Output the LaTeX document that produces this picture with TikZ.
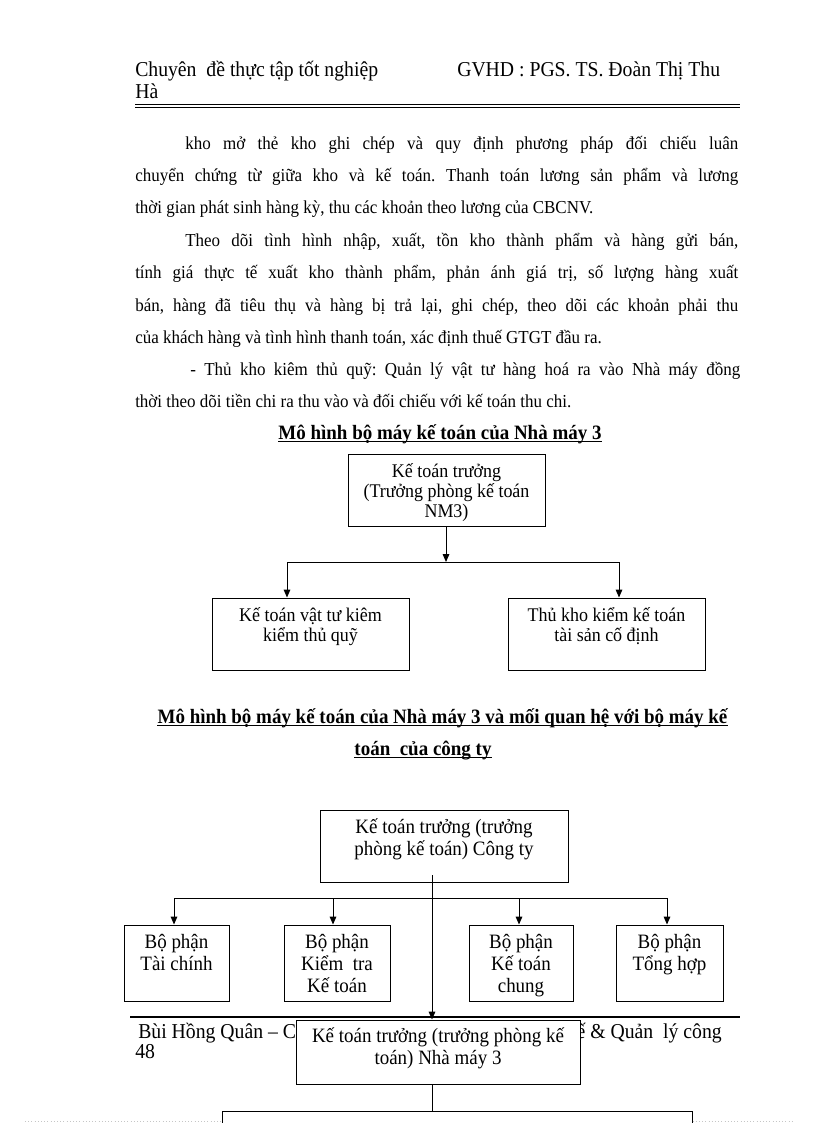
\documentclass[tikz,border=0pt]{standalone}
\usepackage{fontspec}
\setmainfont{Liberation Serif}[FakeStretch=0.93]
\usetikzlibrary{arrows.meta,positioning}

% one justified line of the page text
\newcommand{\jline}[2]{\makebox[#1][s]{#2}}

\begin{document}
\frenchspacing
\begin{tikzpicture}[x=0.75pt, y=-0.75pt,
line/.style={inner sep=0pt, anchor=base west, font=\fontsize{13.7}{15}\selectfont},
pagehead/.style={inner sep=0pt, anchor=base west, font=\fontsize{15.9}{18}\selectfont},
heading/.style={inner sep=0pt, anchor=base, font=\bfseries\fontsize{15.3}{18}\selectfont},
box/.style={draw, line width=0.75pt, fill=white, inner sep=0pt},
boxtext/.style={inner sep=0pt, align=center, font=\fontsize{14.5}{15}\selectfont},
bigtext/.style={boxtext, font=\fontsize{15.3}{16.5}\selectfont},
arr/.style={-{Triangle[width=5pt,length=6pt]}, line width=0.75pt},
link/.style={line width=0.75pt}
]
\clip (0,0) rectangle (816,1123);
\fill[white] (0,0) rectangle (816,1123);

% page header
\node[pagehead] (hd1) at (135,77) {Chuyên\ \ đề thực tập tốt nghiệp};
\node[pagehead] (hd2) at (457,77) {GVHD\ : PGS. TS. Đoàn Thị Thu};
\node[pagehead] (hd3) at (135,99) {Hà};
\draw[line width=0.5pt] (135,104) -- (740,104);
\draw[line width=1.4pt] (135,107.5) -- (740,107.5);

% page text
\node[line] (p1) at (185,150) {\jline{414.75pt}{kho mở thẻ kho ghi chép và quy định phương pháp đối chiếu luân}};
\node[line] (p2) at (135,182) {\jline{452.25pt}{chuyển chứng từ giữa kho và kế toán. Thanh toán lương sản phẩm và lương}};
\node[line] (p3) at (135,214) {thời gian phát sinh hàng kỳ, thu các khoản theo lương của CBCNV.};
\node[line] (p4) at (185,246) {\jline{414.75pt}{Theo dõi tình hình nhập, xuất, tồn kho thành phẩm và hàng gửi bán,}};
\node[line] (p5) at (135,278) {\jline{452.25pt}{tính giá thực tế xuất kho thành phẩm, phản ánh giá trị, số lượng hàng xuất}};
\node[line] (p6) at (135,311) {\jline{452.25pt}{bán, hàng đã tiêu thụ và hàng bị trả lại, ghi chép, theo dõi các khoản phải thu}};
\node[line] (p7) at (135,343) {của khách hàng và tình hình thanh toán, xác định thuế GTGT đầu ra.};
\node[line] (p8) at (190,375) {\jline{412.5pt}{- Thủ kho kiêm thủ quỹ: Quản lý vật tư hàng hoá ra vào Nhà máy đồng}};
\node[line] (p9) at (135,407) {thời theo dõi tiền chi ra thu vào và đối chiếu với kế toán thu chi.};

% first chart
\node[heading] (ttl1) at (440,439) {Mô hình bộ máy kế toán của Nhà máy 3};
\draw[link] ([yshift=-2pt]ttl1.base west) -- ([yshift=-2pt]ttl1.base east);

\node[box, minimum width=147.75pt, minimum height=54pt] (ktt) at (446.5,490) {};
\node[boxtext, below=7.5pt of ktt.north] {Kế toán trưởng\\(Trưởng phòng kế toán\\NM3)};
\node[box, minimum width=147.75pt, minimum height=54pt] (ktvt) at (310.5,634) {};
\node[boxtext, below=7pt of ktvt.north] {Kế toán vật tư kiêm\\kiểm thủ quỹ};
\node[box, minimum width=147.75pt, minimum height=54pt] (tkkt) at (606.5,634) {};
\node[boxtext, below=7pt of tkkt.north] {Thủ kho kiểm kế toán\\tài sản cố định};

\coordinate (busA) at (446,562);
\coordinate (busAl) at (287,562);
\coordinate (busAr) at (619,562);
\draw[arr] (ktt.south -| busA) -- (busA);
\draw[link] (busAl) -- (busAr);
\draw[arr] (busAl) -- (busAl |- ktvt.north);
\draw[arr] (busAr) -- (busAr |- tkkt.north);

% second chart
\node[heading] (ttl2) at (442.5,723) {Mô hình bộ máy kế toán của Nhà máy 3 và mối quan hệ với bộ máy kế\ };
\draw[link] ([yshift=-2pt]ttl2.base west) -- ([yshift=-2pt]ttl2.base east);
\node[heading] (ttl3) at (423,755) {toán\ \ của công ty};
\draw[link] ([yshift=-2pt]ttl3.base west) -- ([yshift=-2pt]ttl3.base east);

\node[box, minimum width=186pt, minimum height=54pt] (ktct) at (444,846) {};
\node[bigtext, below=7pt of ktct.north] {Kế toán trưởng (trưởng\\phòng kế toán) Công ty};

\node[box, minimum width=78.75pt, minimum height=57pt] (tc) at (176.5,963) {};
\node[bigtext, below=7pt of tc.north] {Bộ phận\\Tài chính};
\node[box, minimum width=79.5pt, minimum height=57pt] (kt) at (337,963) {};
\node[bigtext, below=7pt of kt.north] {Bộ phận\\Kiểm\ \ tra\\Kế toán};
\node[box, minimum width=78pt, minimum height=57pt] (ktc) at (521,963) {};
\node[bigtext, below=7pt of ktc.north] {Bộ phận\\Kế toán\\chung};
\node[box, minimum width=80.25pt, minimum height=57pt] (th) at (669.5,963) {};
\node[bigtext, below=7pt of th.north] {Bộ phận\\Tổng hợp};

\coordinate (trunk) at (432,875);
\coordinate (busB1) at (174,898);
\coordinate (busB2) at (333,898);
\coordinate (busB3) at (519,898);
\coordinate (busB4) at (667,898);
\draw[link] (busB1) -- (busB4);
\draw[arr] (busB1) -- (busB1 |- tc.north);
\draw[arr] (busB2) -- (busB2 |- kt.north);
\draw[arr] (busB3) -- (busB3 |- ktc.north);
\draw[arr] (busB4) -- (busB4 |- th.north);

% page footer
\draw[line width=1.5pt] (130,1017) -- (740,1017);
\node[pagehead] (ft1) at (138,1038) {Bùi Hồng Quân – C};
\node[pagehead, anchor=base east] (ft2) at (722,1038) {ế \& Quản\ \ lý công};
\node[pagehead] (ft3) at (135,1058) {48};

\node[box, minimum width=213pt, minimum height=48pt] (ktnm) at (438,1052) {};
\node[bigtext, below=6pt of ktnm.north] {Kế toán trưởng (trưởng phòng kế\\toán) Nhà máy 3};
\draw[arr] (trunk) -- (trunk |- ktnm.north);

\node[box, minimum width=352.5pt, minimum height=45pt, anchor=north] (nm3) at (457,1111) {};
\draw[link] (ktnm.south -| trunk) -- (trunk |- nm3.north);

\draw[gray!45, dotted] (25,1121.5) -- (nm3.north west |- 0,1121.5);
\draw[gray!45, dotted] (nm3.north east |- 0,1121.5) -- (792,1121.5);
\end{tikzpicture}
\end{document}
